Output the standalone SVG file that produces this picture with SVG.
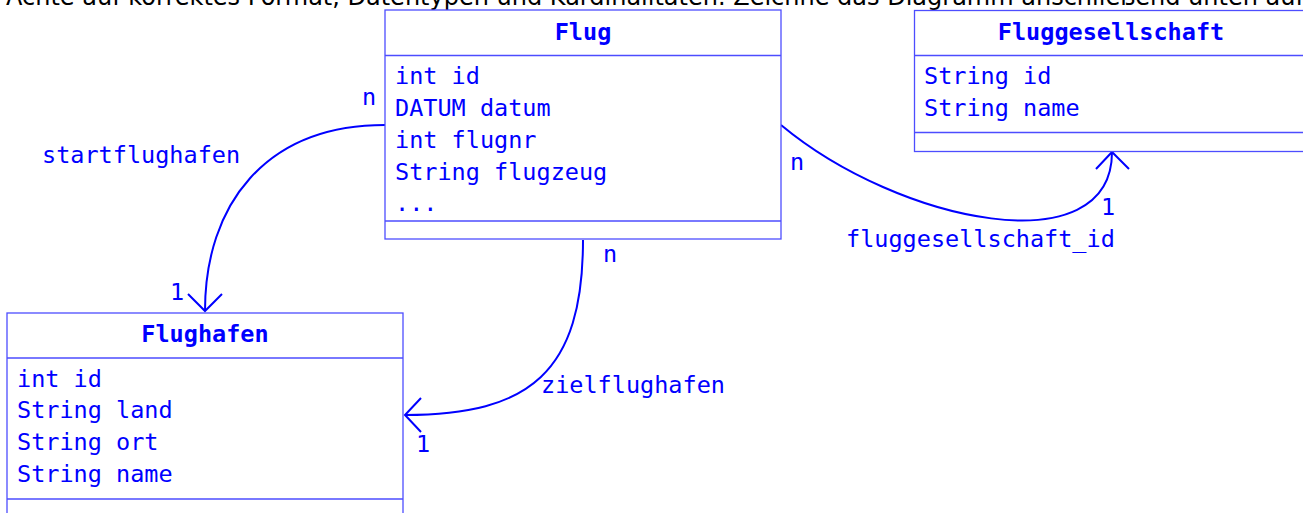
<svg xmlns="http://www.w3.org/2000/svg" width="1303" height="513" viewBox="0 0 1303 513">
<defs>
<style>
.box{fill:#ffffff;stroke:#4d4dff;stroke-width:1.3}
.sep{stroke:#4d4dff;stroke-width:1.3;fill:none}
.t{font-family:"DejaVu Sans Mono","Liberation Mono",monospace;font-size:23.5px;fill:#0000ff}
.title{font-family:"DejaVu Sans Mono","Liberation Mono",monospace;font-size:23.5px;font-weight:bold;fill:#0000ff;text-anchor:middle}
.conn{fill:none;stroke:#0000ff;stroke-width:2}
.top{font-family:"DejaVu Sans","Liberation Sans",sans-serif;font-size:24px;fill:#000000}
</style>
</defs>
<rect width="1303" height="513" fill="#ffffff"/>
<text class="top" x="6" y="5">Achte auf korrektes Format, Datentypen und Kardinalitäten. Zeichne das Diagramm anschließend unten auf</text>

<g id="connectors">
  <path class="conn" d="M385,125 C265,125 205,205 205,311"/>
  <path class="conn" d="M188,294 L205,311 L222,294"/>
  <path class="conn" d="M583,240 C583,372 530,415 405,415"/>
  <path class="conn" d="M421,398 L405,415 L421,432"/>
  <path class="conn" d="M781,125 C900,224 1112,266 1112,152"/>
  <path class="conn" d="M1096,169 L1112,152 L1129,169"/>
  <text class="t" x="362" y="105">n</text>
  <text class="t" x="170" y="300">1</text>
  <text class="t" x="42" y="163">startflughafen</text>
  <text class="t" x="603" y="262">n</text>
  <text class="t" x="416" y="452">1</text>
  <text class="t" x="541" y="393">zielflughafen</text>
  <text class="t" x="790" y="170">n</text>
  <text class="t" x="1101" y="215">1</text>
  <text class="t" x="846" y="247">fluggesellschaft_id</text>
</g>

<g id="flug">
  <rect class="box" x="385" y="10" width="396" height="229"/>
  <line class="sep" x1="385" y1="55.5" x2="781" y2="55.5"/>
  <line class="sep" x1="385" y1="221" x2="781" y2="221"/>
  <text class="title" x="583" y="40">Flug</text>
  <text class="t" x="395" y="84">int id</text>
  <text class="t" x="395" y="116">DATUM datum</text>
  <text class="t" x="395" y="148">int flugnr</text>
  <text class="t" x="395" y="180">String flugzeug</text>
  <text class="t" x="395" y="211">...</text>
</g>

<g id="fluggesellschaft">
  <rect class="box" x="914.5" y="10.5" width="394" height="141" stroke="#1a1aff"/>
  <line class="sep" x1="914.5" y1="55.5" x2="1308" y2="55.5"/>
  <line class="sep" x1="914.5" y1="132.5" x2="1308" y2="132.5"/>
  <text class="title" x="1111" y="40">Fluggesellschaft</text>
  <text class="t" x="924" y="84">String id</text>
  <text class="t" x="924" y="116">String name</text>
</g>

<g id="flughafen">
  <rect class="box" x="7" y="313" width="396" height="230"/>
  <line class="sep" x1="7" y1="358" x2="403" y2="358"/>
  <line class="sep" x1="7" y1="499" x2="403" y2="499"/>
  <text class="title" x="205" y="342">Flughafen</text>
  <text class="t" x="17" y="387">int id</text>
  <text class="t" x="17" y="418">String land</text>
  <text class="t" x="17" y="450">String ort</text>
  <text class="t" x="17" y="482">String name</text>
</g>
</svg>
